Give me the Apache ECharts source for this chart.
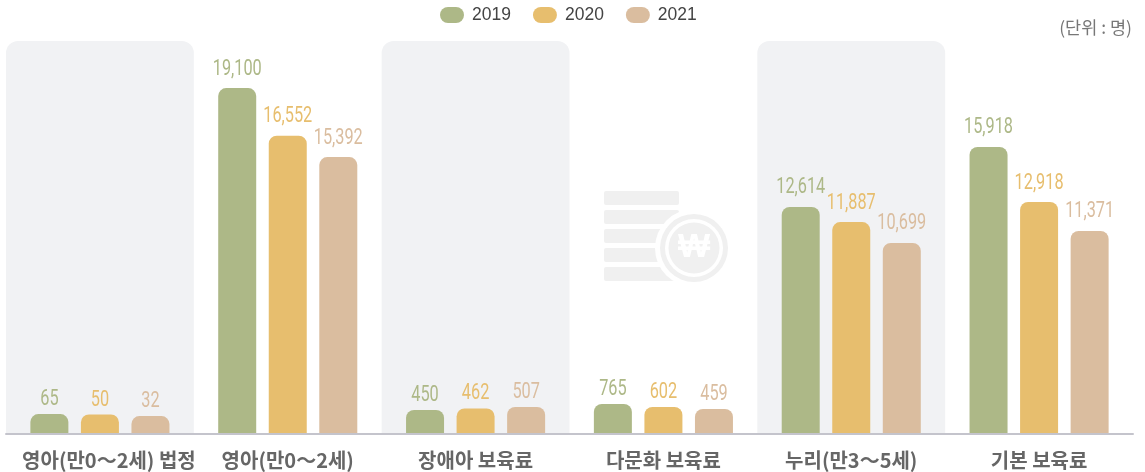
<!DOCTYPE html>
<html><head><meta charset="utf-8">
<style>html,body{margin:0;padding:0;background:#fff}#c{width:1145px;height:472px}</style>
<script src="https://cdn.jsdelivr.net/npm/echarts@6/dist/echarts.min.js"></script>
</head><body><div id="c"></div>
<script>
const categories = ['영아(만0〜2세) 법정','영아(만0〜2세)','장애아 보육료','다문화 보육료','누리(만3〜5세)','기본 보육료'];
const years = ['2019','2020','2021'];
// printed values
const values2019 = [65,19100,450,765,12614,15918];
const values2020 = [50,16552,462,602,11887,12918];
const values2021 = [32,15392,507,459,10699,11371];
// bar lengths as drawn in the picture (small bars are exaggerated there)
const drawn2019 = [1100,19100,1330,1660,12540,15850];
const drawn2020 = [1075,16470,1410,1490,11700,12810];
const drawn2021 = [990,15290,1490,1380,10550,11210];
const panelFlags = [1,null,1,null,1,null];
const colors = ['#adb887','#e7be6e','#dabd9f'];
const F = '"Noto Sans CJK KR","Noto Sans",sans-serif';
const allValues=[values2019,values2020,values2021], allDrawn=[drawn2019,drawn2020,drawn2021];
const barWidth=38, barGapRatio=0.33, pitch=barWidth*(1+barGapRatio);
const chart = echarts.init(document.getElementById('c'),null,{renderer:'canvas'});
const stripes=[191,210,229,248,267].map(y=>({type:'rect',silent:true,z:1,shape:{x:604,y:y,width:75,height:14,r:2},style:{fill:'#f0f0f0'}}));
chart.setOption({
  animation:false,
  legend:{data:years,left:440,top:6,padding:0,itemWidth:24,itemHeight:16,itemGap:22,
    icon:'path://M8 0H16A8 8 0 0 1 16 16H8A8 8 0 0 1 8 0Z',
    textStyle:{fontFamily:'"Liberation Sans",sans-serif',fontSize:17.5,color:'#444',padding:[2,0,0,3]}},
  grid:[{left:6,right:12,top:41,bottom:38}],
  xAxis:[
   {type:'category',z:10,offset:1,axisTick:{show:false},axisLine:{lineStyle:{color:'#c4c4cc',width:2}},
    data:categories.map((c,j)=>j===0?{value:c,textStyle:{padding:[0,0,0,18]}}:c),
    axisLabel:{interval:0,margin:15,fontFamily:F,fontSize:20,fontWeight:700,color:'#666'}},
   {type:'category',data:categories,show:false}
  ],
  yAxis:[
   {type:'value',min:0,max:21700,show:false},
   {type:'value',min:0,max:1,show:false}
  ],
  graphic:{elements:[...stripes,
    {type:'circle',silent:true,z:2,shape:{cx:694,cy:248,r:39},style:{fill:'#fff'}},
    {type:'ring',silent:true,z:3,shape:{cx:694,cy:248,r:34,r0:29},style:{fill:'#f0f0f0'}},
    {type:'circle',silent:true,z:3,shape:{cx:694,cy:248,r:25.5},style:{fill:'#f0f0f0'}},
    {type:'text',silent:true,z:4,style:{x:694,y:248,text:'₩',fill:'#fff',font:'700 34px "Liberation Sans",sans-serif',align:'center',verticalAlign:'middle'}},
    {type:'text',silent:true,style:{x:1132,y:27,text:'(단위 : 명)',fill:'#777',font:'17.5px '+F,align:'right',verticalAlign:'middle'}}
  ]},
  series:[
   {type:'bar',name:'panel',xAxisIndex:1,yAxisIndex:1,barWidth:'100%',silent:true,z:0,data:panelFlags,
    itemStyle:{color:'#f1f2f4',borderRadius:[12,12,0,0]}},
   ...years.map((y,i)=>({type:'bar',name:y,barWidth:barWidth,barGap:(barGapRatio*100)+'%',z:3,
     itemStyle:{color:colors[i],borderRadius:[8,8,0,0]},
     data:allDrawn[i]
   })),
   ...years.map((y,i)=>({type:'custom',name:'labels'+y,z:5,silent:true,clip:false,
     data:allDrawn[i].map((d,j)=>[j,d,allValues[i][j]]),
     encode:{x:0,y:1},
     renderItem:(params,api)=>{
       const p=api.coord([api.value(0),api.value(1)]);
       const v=api.value(2);
       return {type:'text',x:p[0]+(i-1)*pitch,y:p[1]-(v>=1000?19:14.5),scaleX:0.74,
         style:{text:v.toLocaleString('en-US'),fill:colors[i],font:'400 22px Roboto,sans-serif',align:'center',verticalAlign:'middle'}};
     }
   }))
  ]
});
</script></body></html>
